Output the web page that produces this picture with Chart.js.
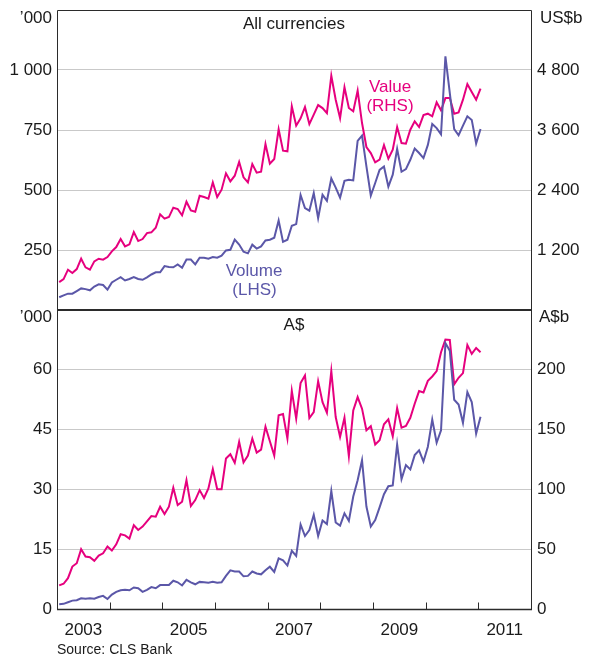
<!DOCTYPE html>
<html>
<head>
<meta charset="utf-8">
<script src="https://cdn.jsdelivr.net/npm/chart.js@4.4.1/dist/chart.umd.min.js"></script>
<style>
html,body{margin:0;padding:0;background:#fff;}
#wrap{position:relative;width:598px;height:656px;overflow:hidden;font-family:"Liberation Sans",Arial,sans-serif;}
canvas{position:absolute;left:0;top:0;}
.t{position:absolute;white-space:nowrap;font-size:17px;line-height:17px;color:#1a1a1a;}
.c{transform:translateX(-50%);text-align:center;}
.mag{color:#e6007e;}
.pur{color:#5b57a8;}
</style>
</head>
<body>
<div id="wrap">
<canvas id="c1" width="598" height="656"></canvas>
<canvas id="c2" width="598" height="656"></canvas>
<div class="t c" style="left:294px;top:14.6px;">All currencies</div>
<div class="t c" style="left:294px;top:315.6px;">A$</div>
<div class="t" style="right:546px;top:8.6px;">’000</div>
<div class="t" style="left:540px;top:8.6px;">US$b</div>
<div class="t" style="right:546px;top:307.6px;">’000</div>
<div class="t" style="left:539px;top:307.6px;">A$b</div>
<div class="t c mag" style="left:390px;top:78px;">Value</div>
<div class="t c mag" style="left:390px;top:97px;">(RHS)</div>
<div class="t c pur" style="left:254px;top:262.3px;">Volume</div>
<div class="t c pur" style="left:254.5px;top:281px;">(LHS)</div>
<div class="t" style="left:57px;top:642px;font-size:14px;line-height:14px;">Source: CLS Bank</div>
</div>
<script>
// ---------- DATA ----------
// Monthly observations, January 2003 to January 2011
const months = [];
for (let y = 2003; y <= 2011; y++) for (let m = 1; m <= 12; m++) months.push(y + '-' + String(m).padStart(2, '0'));

// All currencies: volume ('000, LHS)
const volumeAll = [53,61,68,68,79,90,87,82,98,107,104,85,115,126,137,123,129,137,129,126,136,148,157,157,183,179,178,190,176,210,210,190,218,218,214,221,218,226,248,251,293,273,243,236,272,256,265,290,293,301,373,284,293,351,358,479,425,414,487,383,480,455,548,510,468,538,543,540,705,727,598,477,529,584,598,514,564,671,576,587,626,673,654,633,688,775,758,732,1057,904,754,728,768,807,792,694,754];
// All currencies: value (US$b, RHS)
const valueAll = [559,619,806,739,819,1026,853,806,973,1026,1006,1059,1173,1259,1419,1273,1313,1559,1379,1419,1539,1553,1646,1913,1826,1859,2046,2019,1893,2166,1993,1966,2286,2259,2226,2553,2259,2406,2733,2573,2686,2959,2653,2553,2919,2746,2766,3319,2926,3019,3613,3186,3173,4073,3686,3833,4059,3719,3906,4099,4039,3939,4686,4206,3839,4453,4039,3973,4386,3739,3259,3139,2953,3006,3299,3026,3206,3659,3339,3326,3606,3773,3659,3899,3926,3873,4153,3993,4239,4239,3926,3953,4206,4519,4359,4206,4426];
// A$: volume ('000, LHS)
const volumeAud = [1.2,1.3,1.7,2.1,2.2,2.7,2.6,2.7,2.6,3.0,3.3,2.5,3.6,4.3,4.7,4.8,4.7,5.4,5.2,4.3,4.8,5.5,5.2,6.0,6.0,6.0,7.1,6.7,5.9,7.3,6.7,6.2,6.8,6.7,6.6,6.8,6.6,6.7,8.3,9.7,9.4,9.4,8.2,8.3,9.4,8.9,8.7,9.7,10.6,9.3,12.7,12.2,10.9,14.6,13.3,21.2,18.3,19.8,23.6,18.3,22.2,21.3,29.6,21.7,20.9,24.0,22.1,28.2,32.3,37.3,25.7,20.7,22.3,25.5,28.8,30.8,31.0,41.3,32.6,36.1,35.0,38.6,39.8,37.0,40.7,47.5,41.7,44.8,66.7,64.8,52.5,51.3,46.7,54.4,51.9,44.0,48.2];
// A$: value (A$b, RHS)
const valueAud = [19.7,21.1,25.8,35.5,38.3,50,43.9,43.3,40.3,44.7,46.6,52.2,48.9,54.1,62.5,61.6,58.9,70,66.1,68.9,73.3,77.7,77.2,85.5,79.4,85.5,101.4,86.9,89.7,107.7,86.1,91.1,99.4,92.8,100.8,116.9,100.2,100.2,125.8,129.4,122.2,139.7,122.5,128.3,142.5,130.8,133.3,152.5,140.3,128.3,161.9,163.0,142.5,182.5,159.2,188.9,195.3,159.7,164.7,190.5,173.0,164.1,198.9,160.5,143.9,160.0,127.8,166.1,177.2,167.5,149.4,152.8,137.5,141.1,154.4,158.6,144.4,168.0,151.6,153.0,159.9,171.6,182.2,181.1,190.8,194.4,198.9,214.7,225.3,225.0,187.8,193.3,197.2,220.8,213.3,218.3,214.7];

// Tick labels
const topLeftTicks = [250, 500, 750, 1000];
const topLeftLabels = ['250', '500', '750', '1 000'];
const topRightTicks = [1200, 2400, 3600, 4800];
const topRightLabels = ['1 200', '2 400', '3 600', '4 800'];
const botLeftTicks = [0, 15, 30, 45, 60];
const botLeftLabels = ['0', '15', '30', '45', '60'];
const botRightTicks = [0, 50, 100, 150, 200];
const botRightLabels = ['0', '50', '100', '150', '200'];
const yearLabels = ['2003', '2005', '2007', '2009', '2011'];

// ---------- CHART ----------
const MAG = '#e6007e', PUR = '#5b57a8', GRID = '#c9c9c9', FRAME = '#2b2b2b';
const FONT = {family: "'Liberation Sans', Arial, sans-serif", size: 17};
const yearStart = 2003, nMonths = 9 * 12;
const toPts = arr => arr.map((v, i) => ({x: months.indexOf(months[i]) + 0.5, y: v}));

function fixedTicks(vals, labels) {
  return {
    afterBuildTicks: s => { s.ticks = vals.map(v => ({value: v})); },
    ticks: {font: FONT, color: '#1a1a1a', autoSkip: false,
      callback: (v) => { const k = vals.indexOf(v); return k >= 0 ? labels[k] : ''; }}
  };
}

function yScale(pos, max, vals, labels, grid) {
  const fx = fixedTicks(vals, labels);
  return {
    type: 'linear', position: pos, min: 0, max: max,
    afterBuildTicks: fx.afterBuildTicks,
    afterFit: s => { s.width = pos === 'left' ? 57 : 67; s.paddingTop = 0; s.paddingBottom = 0; },
    ticks: Object.assign(fx.ticks, {padding: pos === 'left' ? 5 : 6}),
    grid: {display: grid, drawTicks: false, color: ctx => (ctx.tick && ctx.tick.value === 0) ? 'rgba(0,0,0,0)' : GRID, lineWidth: 1},
    border: {display: false}
  };
}

function framePlugin(isTop) {
  return {
    id: 'frame' + (isTop ? 'T' : 'B'),
    afterDatasetsDraw(chart) {
      const {ctx, chartArea: a} = chart;
      const L = Math.round(a.left) + 0.5, R = Math.round(a.right) + 0.5;
      const T = Math.round(a.top) + 0.5, B = Math.round(a.bottom);
      ctx.save();
      ctx.strokeStyle = FRAME;
      ctx.lineWidth = 1;
      ctx.beginPath();
      ctx.moveTo(L, T); ctx.lineTo(L, a.bottom + 1);
      ctx.moveTo(R, T); ctx.lineTo(R, a.bottom + 1);
      if (isTop) { ctx.moveTo(L, T); ctx.lineTo(R, T); }
      ctx.stroke();
      ctx.beginPath();
      ctx.lineWidth = isTop ? 2 : 1.5;
      ctx.moveTo(L - 0.5, isTop ? B : B + 0.5); ctx.lineTo(R + 0.5, isTop ? B : B + 0.5);
      ctx.stroke();
      if (!isTop) {
        const xs = chart.scales.x;
        ctx.lineWidth = 1;
        ctx.beginPath();
        for (let k = 1; k < 9; k++) {
          const px = Math.round(xs.getPixelForValue(k * 12)) + 0.5;
          ctx.moveTo(px, B + 0.5); ctx.lineTo(px, B - 6.5);
        }
        ctx.stroke();
      }
      ctx.restore();
    }
  };
}

function makeChart(id, isTop) {
  const vol = isTop ? volumeAll : volumeAud;
  const val = isTop ? valueAll : valueAud;
  const yearTickVals = yearLabels.map(y => (parseInt(y, 10) - yearStart) * 12 + 6);
  const xFx = fixedTicks(yearTickVals, yearLabels);
  return new Chart(document.getElementById(id), {
    type: 'line',
    data: {
      datasets: [
        {label: 'Volume (LHS)', data: toPts(vol), yAxisID: 'yL', borderColor: PUR, borderWidth: 2, pointRadius: 0, tension: 0, fill: false},
        {label: 'Value (RHS)', data: toPts(val), yAxisID: 'yR', borderColor: MAG, borderWidth: 2, pointRadius: 0, tension: 0, fill: false}
      ]
    },
    options: {
      responsive: false, animation: false, devicePixelRatio: 1,
      layout: {padding: isTop ? {top: 10, bottom: 346, left: 0, right: 0} : {top: 310, bottom: 0, left: 0, right: 0}},
      plugins: {legend: {display: false}, tooltip: {enabled: false}, title: {display: false}},
      scales: {
        x: {
          type: 'linear', position: 'bottom', min: 0, max: nMonths, display: !isTop,
          afterBuildTicks: xFx.afterBuildTicks,
          afterFit: s => { s.height = isTop ? 0 : 47; s.paddingLeft = 0; s.paddingRight = 0; },
          ticks: Object.assign(xFx.ticks, {padding: 11, maxRotation: 0}),
          grid: {display: false, drawTicks: false},
          border: {display: false}
        },
        yL: isTop ? yScale('left', 1250, topLeftTicks, topLeftLabels, true) : yScale('left', 75, botLeftTicks, botLeftLabels, true),
        yR: isTop ? yScale('right', 6000, topRightTicks, topRightLabels, false) : yScale('right', 250, botRightTicks, botRightLabels, false)
      }
    },
    plugins: [framePlugin(isTop)]
  });
}

makeChart('c1', true);
makeChart('c2', false);
</script>
</body>
</html>
